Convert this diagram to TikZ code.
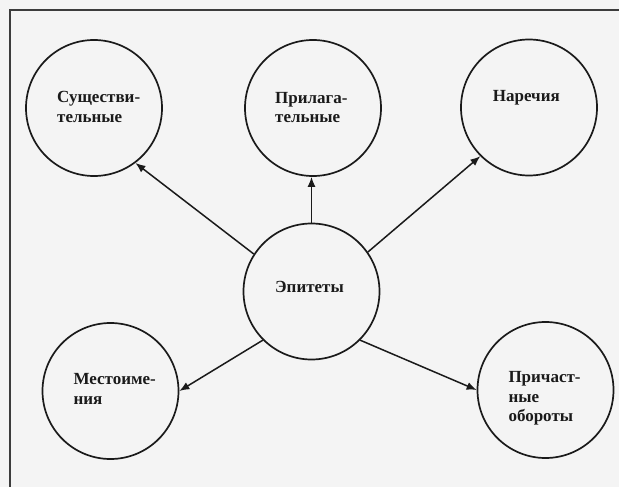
\documentclass[tikz,border=0pt]{standalone}
\usepackage{fontspec}
\setmainfont{Liberation Serif}
\usetikzlibrary{arrows.meta}
\definecolor{bg}{HTML}{F4F4F4}
\definecolor{ink}{HTML}{1A1A1A}
\tikzset{
  bubble/.style={circle, draw=ink, line width=1.7pt, minimum size=136pt, inner sep=0pt},
  lbl/.style={anchor=north west, inner sep=0pt, align=left, text=ink,
    font=\bfseries\fontsize{17}{19.5}\selectfont},
  arr/.style={draw=ink, line width=1.5pt, -{Latex[length=10pt,width=8pt]}},
  frame/.style={draw=ink!85, line width=1.8pt}
}
\begin{document}
\begin{tikzpicture}[x=1pt,y=-1pt]
\useasboundingbox (0,0) rectangle (619,487);
\fill[bg] (0,0) rectangle (619,487);
\draw[frame] (10,487) -- (10,10) -- (619,10);

\node[bubble] (S) at (94,108) {};
\node[bubble] (P) at (313,108) {};
\node[bubble] (N) at (529,107.5) {};
\node[bubble] (E) at (311.5,291.5) {};
\node[bubble] (M) at (110.5,391) {};
\node[bubble] (R) at (545.5,390) {};

\node[lbl] (tS) at (57,91.2) {Существи-\\тельные};
\node[lbl] (tP) at (275,91.8) {Прилага-\\тельные};
\node[lbl] (tN) at (492.7,90.2) {Наречия};
\node[lbl] (tE) at (275,281.5) {Эпитеты};
\node[lbl] (tM) at (73.3,373.5) {Местоиме-\\ния};
\node[lbl] (tR) at (508.3,371.5) {Причаст-\\ные\\обороты};

\draw[arr] (E.147) -- (S.-53);
\draw[arr] (E.north) -- (E.north |- P.south);
\draw[arr] (E.35) -- (N.-135);
\draw[arr] (E.-135) -- (M.east);
\draw[arr] (E.-45) -- (R.west);
\end{tikzpicture}
\end{document}
